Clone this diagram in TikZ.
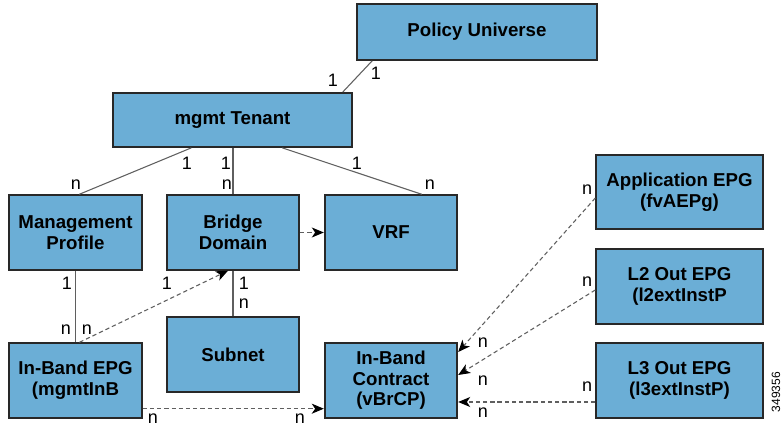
\documentclass[tikz,border=0pt]{standalone}
\usepackage{fontspec}
\setmainfont{Liberation Sans}
\usetikzlibrary{arrows.meta,calc}
\definecolor{boxfill}{RGB}{107,174,214}
\definecolor{boxline}{RGB}{40,40,40}
\definecolor{conn}{RGB}{95,95,95}
\tikzset{
  ent/.style={draw=boxline,fill=boxfill,line width=1.3pt,inner sep=0pt,
    minimum width=99.5pt,minimum height=56pt,align=center,
    font=\fontsize{14}{15.5}\selectfont\bfseries},
  card/.style={inner sep=0pt,font=\fontsize{13.5}{14}\selectfont},
  link/.style={draw=conn,line width=0.8pt},
  dlink/.style={draw=conn,line width=0.8pt,dash pattern=on 3.2pt off 2.2pt,
    -{Stealth[length=9pt,width=7.5pt,inset=2.5pt,color=black]}},
}
\begin{document}
\begin{tikzpicture}[x=0.75pt,y=-0.75pt]
\useasboundingbox (0,0) rectangle (782,427);
% entities
\node[ent,minimum width=180pt,minimum height=42pt] (PU) at (477,32) {Policy Universe};
\node[ent,minimum width=179pt,minimum height=40.5pt] (MT) at (232.5,120) {mgmt Tenant};
\node[ent] (MP) at (75.5,232.5) {Management\\Profile};
\node[ent] (BD) at (233,232.5) {Bridge\\Domain};
\node[ent] (VRF) at (391,232.5) {VRF};
\node[ent] (SN) at (233,354.5) {Subnet};
\node[ent] (EPG) at (75.5,380.5) {In-Band EPG\\(mgmtInB};
\node[ent] (CT) at (391,380.5) {In-Band\\Contract\\(vBrCP)};
\node[ent,minimum width=125pt,minimum height=55.5pt] (APP) at (679.5,192) {Application EPG\\(fvAEPg)};
\node[ent,minimum width=125pt] (L2) at (679.5,286.5) {L2 Out EPG\\(l2extInstP};
\node[ent,minimum width=125pt] (L3) at (679.5,380.5) {L3 Out EPG\\(l3extInstP)};
% solid connectors
\draw[link] ($(MT.north east)+(-10,0)$) -- ($(PU.south west)+(16,0)$);
\draw[link] ($(MT.south west)+(79,0)$) -- ($(MP.north west)+(71,0)$);
\draw[link] (MT.south -| BD.north) -- (BD.north);
\draw[link] ($(MT.south west)+(170,0)$) -- ($(VRF.north west)+(98,0)$);
\draw[link] (MP.south) -- (EPG.north);
\draw[link] (BD.south) -- (SN.north);
% dashed connectors
\draw[dlink] ($(EPG.north)+(4,0)$) -- ($(BD.south)+(-5,0)$);
\draw[dlink] (BD.east) -- (VRF.west);
\draw[dlink] ($(EPG.south east)+(0,-10)$) -- ($(CT.south west)+(0,-10)$);
\draw[dlink] ($(APP.west)+(0,6)$) -- ($(CT.east)+(0,-28.5)$);
\draw[dlink] ($(L2.west)+(0,3.5)$) -- ($(CT.east)+(0,-5.5)$);
\draw[dlink] ($(L3.west)+(0,21.5)$) -- ($(CT.east)+(0,21.5)$);
% cardinality labels
\node[card] (c1) at (333,80) {1};
\node[card] (c2) at (376,73) {1};
\node[card] (c3) at (187,163) {1};
\node[card] (c4) at (76,185) {n};
\node[card] (c5) at (226,163) {1};
\node[card] (c6) at (227,185) {n};
\node[card] (c7) at (357,163) {1};
\node[card] (c8) at (430,185) {n};
\node[card] (c9) at (67,283) {1};
\node[card] (c10) at (66,330) {n};
\node[card] (c11) at (87,330) {n};
\node[card] (c12) at (167,283) {1};
\node[card] (c13) at (244,283) {1};
\node[card] (c14) at (244,304) {n};
\node[card] (c15) at (153,419) {n};
\node[card] (c16) at (300,419) {n};
\node[card] (c17) at (587,190) {n};
\node[card] (c18) at (483,343) {n};
\node[card] (c19) at (587,282) {n};
\node[card] (c20) at (483,381) {n};
\node[card] (c21) at (587,387) {n};
\node[card] (c22) at (483,413) {n};
% figure number
\node[inner sep=0pt,rotate=90,font=\fontsize{9}{9}\selectfont] (fig) at (776,392) {349356};
\end{tikzpicture}
\end{document}
